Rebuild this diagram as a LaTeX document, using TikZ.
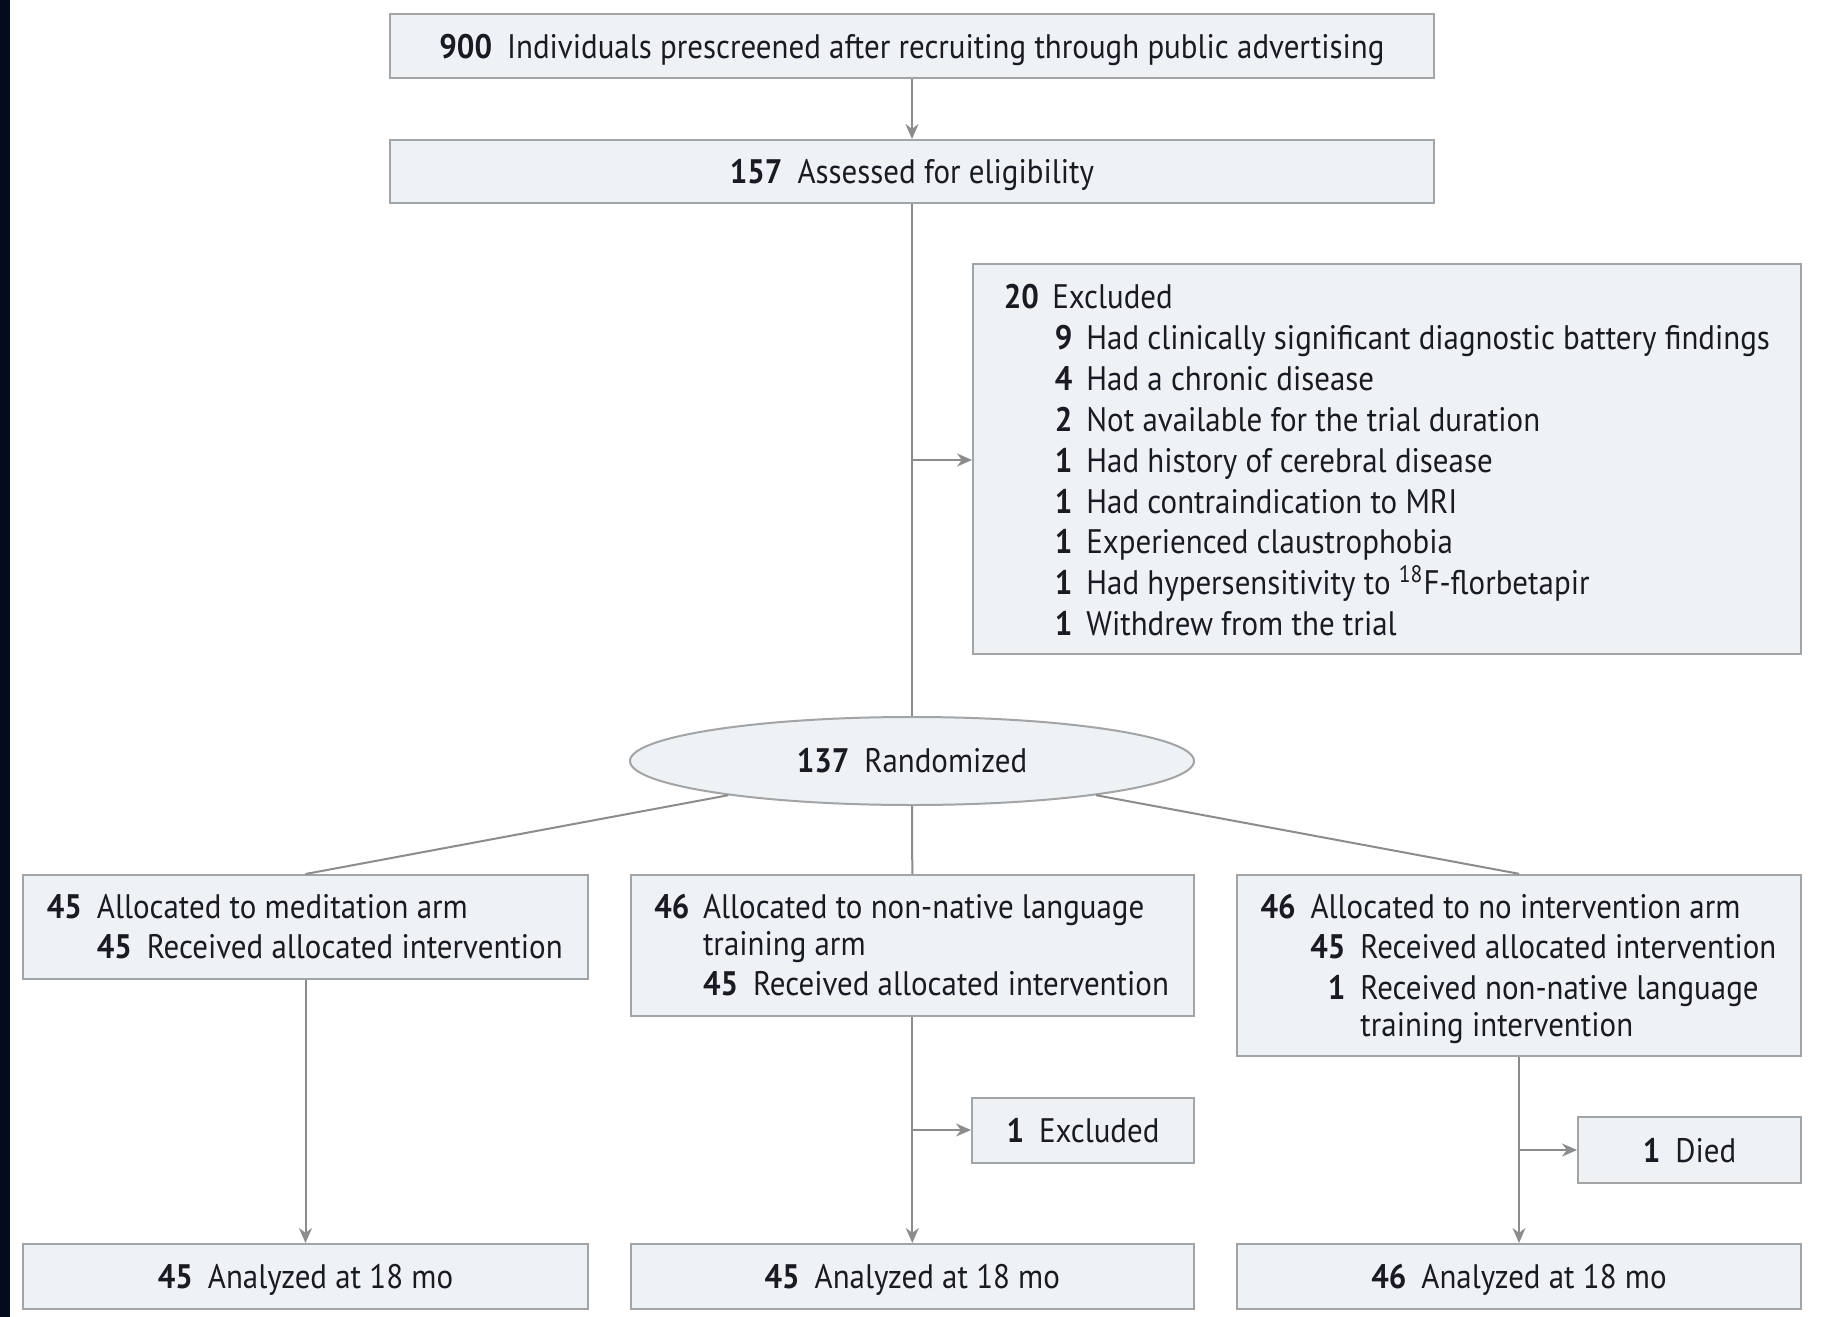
\documentclass[tikz,border=0pt]{standalone}
\usepackage{fontspec}
\setmainfont[FakeStretch=0.91]{PT Sans}
\usetikzlibrary{shapes.geometric,arrows.meta,calc}
\definecolor{boxfill}{HTML}{EEF2F5}
\definecolor{boxline}{HTML}{A2A4A6}
\definecolor{linegray}{HTML}{8C8C8C}
\definecolor{ink}{HTML}{1A1A22}
\definecolor{edge}{HTML}{050B1E}
% number set in a fixed-width slot so that the following words line up
\newcommand\numslot[2]{\makebox[#1][l]{\textbf{#2}}}
\newcommand\gapnum[1]{\textbf{#1}\hspace{7.5pt}}
\begin{document}
\begin{tikzpicture}[x=0.5pt,y=-0.5pt,
  font=\fontsize{17pt}{20pt}\selectfont,
  box/.style={rectangle,draw=boxline,fill=boxfill,line width=1pt,inner sep=0pt,text=ink,text depth=0pt},
  oval/.style={ellipse,draw=boxline,fill=boxfill,line width=1pt,inner sep=0pt,text=ink},
  txt/.style={anchor=base west,inner sep=0pt,text=ink},
  ln/.style={draw=linegray,line width=1pt},
  arr/.style={ln,-{Stealth[length=7.5pt,width=6.5pt]}}]
\useasboundingbox (0,0) rectangle (1821,1317);
\fill[white] (0,0) rectangle (1821,1317);
\fill[edge] (0,0) rectangle (10,1317);

% enrolment
\node[box,minimum width=522pt,minimum height=32pt] (pre) at (912,46)
  {\gapnum{900}Individuals prescreened after recruiting through public advertising};
\node[box,minimum width=522pt,minimum height=31.5pt] (elig) at (912,171.5)
  {\gapnum{157}Assessed for eligibility};

% exclusions before randomization
\node[box,minimum width=414pt,minimum height=195pt] (excl) at (1387,459) {};
\node[txt] (e0) at (1003.5,308.5) {\numslot{24.25pt}{20}Excluded};
\node[txt] (e1) at (1054.5,349.4) {\numslot{15.75pt}{9}Had clinically significant diagnostic battery findings};
\node[txt] (e2) at (1054.5,390.3) {\numslot{15.75pt}{4}Had a chronic disease};
\node[txt] (e3) at (1054.5,431.2) {\numslot{15.75pt}{2}Not available for the trial duration};
\node[txt] (e4) at (1054.5,472.1) {\numslot{15.75pt}{1}Had history of cerebral disease};
\node[txt] (e5) at (1054.5,513.0) {\numslot{15.75pt}{1}Had contraindication to MRI};
\node[txt] (e6) at (1054.5,553.9) {\numslot{15.75pt}{1}Experienced claustrophobia};
\node[txt] (e7) at (1054.5,594.8) {\numslot{15.75pt}{1}Had hypersensitivity to \textsuperscript{18}F-florbetapir};
\node[txt] (e8) at (1054.5,635.7) {\numslot{15.75pt}{1}Withdrew from the trial};

% randomization
\node[oval,minimum width=282pt,minimum height=44pt] (rand) at (912,761)
  {\gapnum{137}Randomized};

% allocation
\node[box,minimum width=282.5pt,minimum height=52pt] (armL) at (305.5,927) {};
\node[txt] (l1) at (46.5,918) {\numslot{25pt}{45}Allocated to meditation arm};
\node[txt] (l2) at (96.4,958.5) {\numslot{25pt}{45}Received allocated intervention};

\node[box,minimum width=281.5pt,minimum height=70.5pt] (armM) at (912.3,945.3) {};
\node[txt] (m1) at (653.9,918) {\numslot{24.35pt}{46}Allocated to non-native language};
\node[txt] (m2) at (702.6,955) {training arm};
\node[txt] (m3) at (702.6,995.5) {\numslot{25pt}{45}Received allocated intervention};

\node[box,minimum width=282pt,minimum height=90.5pt] (armR) at (1519,965.3) {};
\node[txt] (r1) at (1260.1,918) {\numslot{25pt}{46}Allocated to no intervention arm};
\node[txt] (r2) at (1310,958.5) {\numslot{25pt}{45}Received allocated intervention};
\node[txt] (r3) at (1310,999.2) {\numslot{25pt}{\phantom{4}1}Received non-native language};
\node[txt] (r4) at (1360,1036.3) {training intervention};

% follow-up losses
\node[box,minimum width=111pt,minimum height=32.5pt] (exM) at (1083,1130) {\gapnum{1}Excluded};
\node[box,minimum width=111.5pt,minimum height=33pt] (died) at (1689.5,1150) {\gapnum{1}Died};

% analysis
\node[box,minimum width=282.5pt,minimum height=32.5pt] (botL) at (305.5,1276.5) {\gapnum{45}Analyzed at 18 mo};
\node[box,minimum width=281.5pt,minimum height=32.5pt] (botM) at (912.3,1276.5) {\gapnum{45}Analyzed at 18 mo};
\node[box,minimum width=282pt,minimum height=32.5pt] (botR) at (1519,1276.5) {\gapnum{46}Analyzed at 18 mo};

% connectors
\draw[arr] (pre.south) -- (elig.north);
\draw[ln] (elig.south) -- (rand.north);
\coordinate (jE) at (912,460);
\draw[arr] (jE) -- (jE -| excl.west);
\draw[ln] (rand) -- (armL.north);
\draw[ln] (rand.south) -- (armM.north);
\draw[ln] (rand) -- (armR.north);
\draw[arr] (armL.south) -- (botL.north);
\draw[arr] (armM.south) -- (botM.north);
\draw[arr] (armR.south) -- (botR.north);
\coordinate (jM) at (912.3,1130);
\draw[arr] (jM) -- (exM.west);
\coordinate (jR) at (1519,1150);
\draw[arr] (jR) -- (died.west);
\end{tikzpicture}
\end{document}
